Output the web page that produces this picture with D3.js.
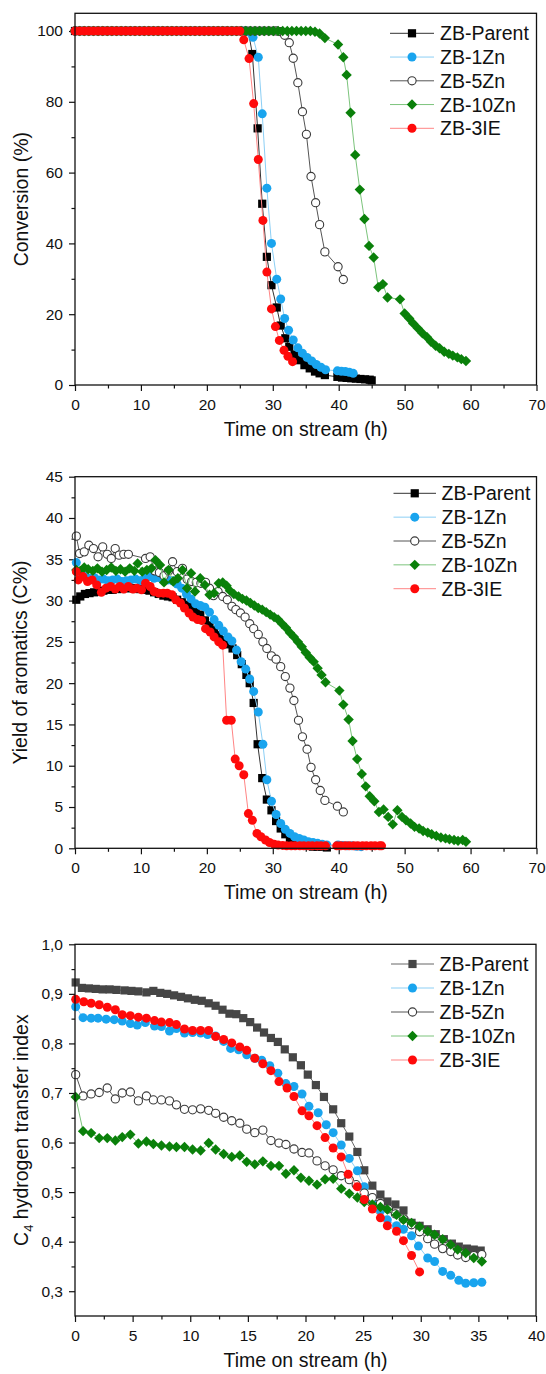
<!DOCTYPE html>
<html><head><meta charset="utf-8">
<script src="https://cdn.jsdelivr.net/npm/d3@7"></script>
<style>
html,body{margin:0;padding:0;background:#fff;}
svg{display:block;font-family:"Liberation Sans",Arial,sans-serif;}
</style></head><body>
<svg id="chart" width="546" height="1374"></svg>
<script>
// ---------------- DATA ----------------
const seriesNames = ["ZB-Parent", "ZB-1Zn", "ZB-5Zn", "ZB-10Zn", "ZB-3IE"];
const xTitle = "Time on stream (h)";

// Panel 1: Conversion (%)
const convParent = [[0,100],[0.7,100],[1.4,100],[2.1,100],[2.8,100],[3.5,100],[4.2,100],[4.9,100],[5.6,100],[6.3,100],[7,100],[7.7,100],[8.4,100],[9.1,100],[9.8,100],[10.5,100],[11.2,100],[11.9,100],[12.6,100],[13.3,100],[14,100],[14.7,100],[15.4,100],[16.1,100],[16.8,100],[17.5,100],[18.2,100],[18.9,100],[19.6,100],[20.3,100],[21,100],[21.7,100],[22.4,100],[23.1,100],[23.8,100],[24.5,100],[25.2,100],[25.9,100],[26.3,99.8],[26.9,93.5],[27.7,72.5],[28.4,51.2],[29.1,36.2],[29.8,28.2],[30.6,21.9],[31.2,16.8],[31.9,13.2],[32.5,10.8],[33.3,8.6],[34.1,7.0],[34.8,5.6],[35.6,4.7],[36.4,3.8],[37.1,3.3],[37.9,2.8],[39.8,2.3],[40.5,2.1],[41.2,2.0],[41.9,1.9],[42.6,1.8],[43.3,1.7],[44,1.6],[44.7,1.5],[45,1.3]];
const conv1Zn = [[0,100],[0.7,100],[1.4,100],[2.1,100],[2.8,100],[3.5,100],[4.2,100],[4.9,100],[5.6,100],[6.3,100],[7,100],[7.7,100],[8.4,100],[9.1,100],[9.8,100],[10.5,100],[11.2,100],[11.9,100],[12.6,100],[13.3,100],[14,100],[14.7,100],[15.4,100],[16.1,100],[16.8,100],[17.5,100],[18.2,100],[18.9,100],[19.6,100],[20.3,100],[21,100],[21.7,100],[22.4,100],[23.1,100],[23.8,100],[24.5,100],[25.2,100],[25.9,100],[26.5,99.6],[27.0,98.2],[27.8,92.6],[28.4,76.6],[29.1,55.6],[29.8,40.0],[30.6,29.9],[31.2,24.3],[31.8,18.8],[32.4,15.5],[33.1,12.7],[33.8,10.5],[34.5,9.0],[35.2,7.8],[35.9,6.8],[36.6,5.8],[37.3,5.0],[38.0,4.3],[39.8,4.0],[40.4,3.9],[41.0,3.8],[41.6,3.6],[42.2,3.3]];
const conv5Zn = [[0,100],[0.7,100],[1.4,100],[2.1,100],[2.8,100],[3.5,100],[4.2,100],[4.9,100],[5.6,100],[6.3,100],[7,100],[7.7,100],[8.4,100],[9.1,100],[9.8,100],[10.5,100],[11.2,100],[11.9,100],[12.6,100],[13.3,100],[14,100],[14.7,100],[15.4,100],[16.1,100],[16.8,100],[17.5,100],[18.2,100],[18.9,100],[19.6,100],[20.3,100],[21,100],[21.7,100],[22.4,100],[23.1,100],[23.8,100],[24.5,100],[25.2,100],[25.9,100],[26.6,100],[27.3,100],[28,100],[28.7,100],[29.4,100],[30.1,100],[30.6,100],[31.2,99.8],[31.8,98.8],[32.5,96.7],[33.1,92.3],[33.8,85.4],[34.5,77.2],[35.1,70.8],[35.8,58.9],[36.5,51.5],[37.1,45.3],[37.9,37.6],[39.9,33.4],[40.7,29.8]];
const conv10Zn = [[0,100],[0.7,100],[1.4,100],[2.1,100],[2.8,100],[3.5,100],[4.2,100],[4.9,100],[5.6,100],[6.3,100],[7,100],[7.7,100],[8.4,100],[9.1,100],[9.8,100],[10.5,100],[11.2,100],[11.9,100],[12.6,100],[13.3,100],[14,100],[14.7,100],[15.4,100],[16.1,100],[16.8,100],[17.5,100],[18.2,100],[18.9,100],[19.6,100],[20.3,100],[21,100],[21.7,100],[22.4,100],[23.1,100],[23.8,100],[24.5,100],[25.2,100],[25.9,100],[26.6,100],[27.3,100],[28,100],[28.7,100],[29.4,100],[30.1,100],[30.8,100],[31.5,100],[32.2,100],[32.9,100],[33.6,100],[34.3,100],[35,100],[35.7,100],[36.4,99.8],[37.1,99.3],[37.9,98.0],[39.9,96.2],[40.7,92.6],[41.2,87.6],[41.8,76.9],[42.5,65.0],[43.2,55.2],[43.9,46.9],[44.6,39.3],[45.3,36.0],[46.0,27.6],[46.7,28.5],[47.4,24.7],[49.3,24.2],[50.0,20.2],[50.7,18.8],[51.3,17.4],[52.0,16.0],[52.7,14.6],[53.4,13.5],[54.0,12.2],[54.7,11.1],[55.3,10.4],[56.0,9.4],[56.7,8.8],[57.3,8.3],[58.0,7.8],[58.6,7.3],[59.3,6.8]];
const conv3IE = [[0,100],[0.7,100],[1.4,100],[2.1,100],[2.8,100],[3.5,100],[4.2,100],[4.9,100],[5.6,100],[6.3,100],[7,100],[7.7,100],[8.4,100],[9.1,100],[9.8,100],[10.5,100],[11.2,100],[11.9,100],[12.6,100],[13.3,100],[14,100],[14.7,100],[15.4,100],[16.1,100],[16.8,100],[17.5,100],[18.2,100],[18.9,100],[19.6,100],[20.3,100],[21,100],[21.7,100],[22.4,100],[23.1,100],[23.8,100],[24.5,100],[25.0,100],[25.6,97.5],[26.4,92.2],[27.1,79.5],[27.8,63.7],[28.5,46.5],[29.1,31.9],[29.8,21.5],[30.4,16.5],[31.0,12.6],[31.7,9.8],[32.3,8.1],[33.0,6.6]];

// Panel 2: Yield of aromatics (C%)
const yieldParent = [[0.2,30.1],[0.8,30.5],[1.5,30.8],[2.2,30.9],[2.9,31.0],[3.6,31.1],[4.3,31.2],[5.0,31.3],[5.7,31.3],[6.4,31.4],[7.1,31.4],[7.8,31.5],[8.5,31.5],[9.2,31.4],[9.9,31.4],[10.6,31.3],[11.3,31.2],[12.0,31.0],[12.7,30.8],[13.4,30.6],[14.1,30.5],[14.8,30.4],[15.5,30.1],[16.2,29.8],[16.9,29.5],[17.6,29.2],[18.3,28.8],[19.0,28.3],[19.7,27.6],[20.4,27.0],[21.1,26.4],[21.8,25.8],[22.5,25.2],[23.2,24.7],[23.9,24.2],[24.6,23.4],[25.3,22.3],[26.0,21.0],[26.5,20.0],[27.1,17.6],[27.7,12.6],[28.4,8.5],[29.1,5.9],[29.8,4.6],[30.5,3.3],[31.2,2.4],[31.9,1.7],[32.6,1.2],[33.3,0.8],[34.0,0.5],[34.7,0.4],[35.4,0.3],[36.1,0.2],[36.8,0.2],[37.5,0.2],[38.2,0.1]];
const yield1Zn = [[0.2,34.6],[0.8,33.2],[1.5,32.9],[2.2,32.7],[2.9,32.8],[3.6,32.5],[4.3,32.6],[5.0,32.4],[5.7,32.5],[6.4,32.6],[7.1,32.3],[7.8,32.4],[8.5,32.5],[9.2,32.6],[9.9,32.4],[10.6,32.8],[11.3,32.9],[12.0,32.7],[12.7,32.8],[13.4,32.6],[14.1,32.5],[14.8,32.4],[15.5,32.0],[16.2,31.5],[16.9,30.8],[17.6,30.2],[18.3,29.6],[19.0,29.4],[19.7,29.2],[20.4,28.6],[21.1,27.7],[21.8,27.0],[22.5,26.3],[23.2,25.6],[23.8,25.1],[24.5,24.0],[25.2,22.6],[25.9,21.7],[26.5,20.5],[27.1,19.0],[27.8,16.5],[28.5,12.6],[29.1,8.3],[29.8,5.7],[30.5,4.1],[31.2,3.0],[31.9,2.3],[32.6,1.8],[33.3,1.4],[34.0,1.2],[34.7,1.0],[35.4,0.8],[36.1,0.7],[36.8,0.6],[37.5,0.5],[38.2,0.4],[39.9,0.4],[40.6,0.35],[41.3,0.3],[42.0,0.3],[42.7,0.25],[43.4,0.2]];
const yield5Zn = [[0.2,37.8],[0.7,35.7],[1.4,35.9],[2.1,36.7],[2.8,36.3],[3.5,35.3],[4.2,36.5],[4.9,35.6],[5.5,35.1],[6.1,36.3],[6.7,35.5],[7.4,35.6],[8.1,35.6],[10.7,35.1],[11.4,35.3],[12.1,33.6],[12.8,33.4],[13.5,33.0],[14.2,33.6],[14.8,34.7],[15.5,33.5],[16.3,33.9],[17.0,32.6],[17.7,32.3],[18.4,32.2],[19.1,32.1],[19.8,32.2],[20.4,31.5],[21.0,30.6],[21.7,31.1],[22.4,30.5],[23.1,30.1],[23.8,29.3],[24.4,28.9],[25.1,28.5],[25.8,28.0],[26.5,27.2],[27.1,26.6],[27.8,25.9],[28.5,25.0],[29.1,24.2],[29.8,23.3],[30.5,22.9],[31.2,22.0],[31.9,20.8],[32.6,19.4],[33.2,17.9],[33.9,15.5],[34.5,13.5],[35.2,12.0],[35.8,9.8],[36.5,8.3],[37.2,7.0],[37.9,5.8],[39.8,5.1],[40.7,4.4]];
const yield10Zn = [[0.2,33.7],[0.8,33.6],[1.4,34.0],[2.0,33.8],[2.7,33.6],[3.4,33.9],[4.1,33.5],[4.8,33.7],[5.5,34.0],[6.2,33.6],[6.9,33.8],[7.6,33.5],[8.3,33.9],[9.0,33.6],[9.5,34.5],[10.2,33.5],[10.9,33.7],[11.6,33.9],[12.2,34.9],[12.9,34.3],[13.5,32.2],[14.2,33.7],[14.9,32.3],[15.6,32.7],[16.3,33.7],[17.0,31.5],[17.6,33.3],[18.2,31.1],[19.0,32.7],[19.7,31.9],[20.4,30.7],[21.1,30.9],[21.8,32.1],[22.4,32.2],[23.0,31.8],[23.5,31.2],[24.1,30.8],[24.8,30.5],[25.4,30.2],[26.0,30.0],[26.6,29.7],[27.2,29.4],[27.8,29.1],[28.4,28.9],[29.0,28.6],[29.6,28.3],[30.2,28.0],[30.8,27.7],[31.4,27.2],[32.0,26.7],[32.6,26.1],[33.2,25.6],[33.8,25.0],[34.4,24.4],[35.0,23.7],[35.6,23.1],[36.2,22.6],[36.8,21.8],[37.4,21.0],[38.0,20.1],[40.1,19.1],[40.7,17.4],[41.5,15.6],[42.1,13.0],[42.8,10.8],[43.5,9.0],[44.1,7.5],[44.7,6.3],[45.4,5.7],[46.1,4.4],[46.8,4.7],[47.5,3.8],[48.2,2.9],[48.9,4.6],[49.6,3.8],[50.2,3.4],[50.9,3.0],[51.5,2.6],[52.2,2.4],[52.8,2.1],[53.5,1.9],[54.1,1.7],[54.8,1.5],[55.5,1.3],[56.2,1.2],[56.8,1.1],[57.5,1.0],[58.1,0.9],[58.8,1.0],[59.3,0.8]];
const yield3IE = [[0.2,33.5],[0.5,32.5],[1.2,32.9],[1.9,32.3],[2.6,32.5],[3.3,31.9],[4.0,31.0],[4.7,31.5],[5.4,31.7],[6.1,31.4],[6.8,31.7],[7.4,31.4],[8.1,31.7],[8.8,31.4],[9.4,31.5],[10.1,31.3],[10.7,32.1],[11.4,31.7],[12.0,31.1],[12.7,30.9],[13.4,30.9],[14.0,30.9],[14.7,30.7],[15.3,30.1],[16.0,29.7],[16.6,29.1],[17.3,28.5],[17.9,28.0],[18.6,27.7],[19.2,27.6],[19.8,26.6],[20.5,26.2],[21.1,25.6],[21.8,25.0],[22.4,24.6],[23.0,15.5],[23.7,15.5],[24.3,10.8],[24.9,10.0],[25.6,8.9],[26.3,4.2],[26.9,3.4],[27.6,1.8],[28.2,1.4],[28.9,1.0],[29.5,0.7],[30.2,0.5],[30.8,0.4],[31.5,0.35],[32.1,0.3],[32.8,0.3],[33.4,0.3],[34.1,0.3],[34.7,0.3],[35.4,0.3],[36.0,0.3],[36.7,0.3],[37.3,0.3],[38.0,0.3],[39.7,0.3],[40.3,0.3],[41.0,0.3],[41.6,0.3],[42.3,0.3],[42.9,0.3],[43.6,0.3],[44.2,0.3],[44.9,0.3],[45.5,0.3],[46.2,0.3],[46.5,0.3]];

// Panel 3: C4 hydrogen transfer index
const htiParent = [[0.06,0.923],[0.6,0.912],[1.2,0.911],[1.8,0.910],[2.4,0.909],[3.0,0.909],[3.6,0.908],[4.3,0.907],[4.9,0.906],[5.5,0.905],[6.2,0.903],[6.8,0.906],[7.4,0.902],[8.0,0.900],[8.6,0.897],[9.2,0.894],[9.8,0.891],[10.4,0.888],[11.0,0.886],[11.6,0.881],[12.2,0.876],[12.8,0.868],[13.4,0.860],[14.0,0.859],[14.6,0.851],[15.2,0.843],[15.8,0.832],[16.4,0.822],[17.0,0.811],[17.6,0.803],[18.2,0.788],[18.9,0.772],[19.6,0.756],[20.2,0.737],[20.9,0.716],[21.6,0.692],[22.4,0.667],[23.1,0.639],[23.8,0.612],[24.5,0.581],[25.1,0.544],[25.8,0.513],[26.5,0.495],[27.1,0.481],[27.8,0.475],[28.5,0.463],[29.2,0.438],[29.9,0.432],[30.6,0.425],[31.3,0.415],[32.0,0.405],[32.7,0.396],[33.3,0.390],[34.0,0.386],[34.6,0.384],[35.2,0.382]];
const hti1Zn = [[0.06,0.874],[0.7,0.852],[1.4,0.851],[2.0,0.851],[2.7,0.849],[3.4,0.848],[4.1,0.845],[4.8,0.840],[5.4,0.837],[6.1,0.842],[6.9,0.835],[7.5,0.834],[8.2,0.825],[8.8,0.830],[9.5,0.821],[10.2,0.822],[10.9,0.821],[11.5,0.818],[12.2,0.815],[12.9,0.804],[13.5,0.790],[14.2,0.787],[14.9,0.777],[15.6,0.770],[16.2,0.766],[16.9,0.755],[17.6,0.740],[18.3,0.719],[19.0,0.713],[19.7,0.698],[20.3,0.673],[21.1,0.660],[21.8,0.636],[22.4,0.620],[23.1,0.595],[23.8,0.568],[24.5,0.543],[25.1,0.511],[25.8,0.480],[26.5,0.462],[27.1,0.444],[27.9,0.432],[28.5,0.425],[29.2,0.412],[29.8,0.391],[30.6,0.367],[31.2,0.360],[31.9,0.340],[32.6,0.332],[33.3,0.322],[33.9,0.316],[34.6,0.317],[35.3,0.318]];
const hti5Zn = [[0.06,0.737],[0.7,0.694],[1.4,0.698],[2.1,0.701],[2.8,0.710],[3.5,0.688],[4.1,0.700],[4.8,0.702],[5.5,0.684],[6.2,0.694],[6.8,0.686],[7.5,0.686],[8.2,0.684],[8.8,0.676],[9.5,0.667],[10.2,0.666],[10.9,0.668],[11.6,0.665],[12.2,0.659],[12.9,0.651],[13.6,0.644],[14.3,0.639],[14.9,0.627],[15.6,0.620],[16.3,0.625],[17.0,0.604],[17.7,0.599],[18.3,0.596],[19.0,0.587],[19.7,0.580],[20.3,0.579],[21.0,0.563],[21.7,0.553],[22.4,0.545],[23.1,0.533],[23.8,0.525],[24.4,0.515],[25.1,0.498],[25.8,0.489],[26.5,0.477],[27.2,0.466],[27.8,0.456],[28.5,0.446],[29.2,0.434],[29.9,0.420],[30.6,0.406],[31.2,0.395],[31.9,0.386],[32.6,0.380],[33.2,0.373],[33.9,0.368],[34.6,0.372],[35.3,0.374]];
const hti10Zn = [[0.06,0.692],[0.7,0.623],[1.4,0.619],[2.1,0.609],[2.8,0.609],[3.5,0.604],[4.1,0.611],[4.8,0.616],[5.5,0.598],[6.2,0.602],[6.8,0.597],[7.5,0.594],[8.2,0.592],[8.8,0.591],[9.5,0.591],[10.2,0.586],[10.9,0.584],[11.6,0.599],[12.2,0.586],[12.9,0.577],[13.6,0.571],[14.3,0.574],[14.9,0.561],[15.6,0.556],[16.3,0.562],[17.0,0.553],[17.7,0.553],[18.3,0.537],[19.0,0.544],[19.6,0.529],[20.3,0.523],[21.0,0.515],[21.7,0.526],[22.4,0.527],[23.1,0.507],[23.8,0.497],[24.5,0.489],[25.1,0.480],[25.8,0.475],[26.5,0.470],[27.1,0.465],[27.9,0.454],[28.5,0.444],[29.2,0.438],[29.9,0.430],[30.6,0.421],[31.2,0.414],[31.9,0.405],[32.6,0.394],[33.2,0.384],[33.9,0.377],[34.6,0.367],[35.3,0.360]];
const hti3IE = [[0.06,0.889],[0.76,0.884],[1.4,0.881],[2.1,0.878],[2.8,0.873],[3.5,0.868],[4.1,0.858],[4.8,0.856],[5.5,0.853],[6.2,0.851],[6.9,0.846],[7.5,0.843],[8.2,0.842],[8.8,0.838],[9.5,0.829],[10.2,0.826],[10.9,0.826],[11.6,0.826],[12.2,0.814],[12.9,0.808],[13.6,0.801],[14.3,0.793],[14.9,0.786],[15.6,0.770],[16.3,0.759],[17.0,0.745],[17.7,0.723],[18.4,0.710],[19.0,0.693],[19.7,0.664],[20.3,0.654],[21.0,0.634],[21.7,0.610],[22.4,0.589],[23.1,0.571],[23.7,0.536],[24.5,0.511],[25.1,0.485],[25.8,0.466],[26.5,0.448],[27.1,0.432],[27.9,0.421],[28.5,0.402],[29.2,0.372],[29.9,0.339]];

// Tick values / labels
const xTicks70 = [0,10,20,30,40,50,60,70];
const xMinor70 = [5,15,25,35,45,55,65];
const xTicks40 = [0,5,10,15,20,25,30,35,40];
const xMinor40 = [2.5,7.5,12.5,17.5,22.5,27.5,32.5,37.5];
const convYTicks = [0,20,40,60,80,100];
const convYMinor = [10,30,50,70,90];
const yieldYTicks = [0,5,10,15,20,25,30,35,40,45];
const yieldYMinor = [2.5,7.5,12.5,17.5,22.5,27.5,32.5,37.5,42.5];
const htiYTicks = [0.3,0.4,0.5,0.6,0.7,0.8,0.9,1.0];
const htiYTickLabels = ["0,3","0,4","0,5","0,6","0,7","0,8","0,9","1,0"];
const htiYMinor = [0.35,0.45,0.55,0.65,0.75,0.85,0.95];

// ---------------- STYLE / LAYOUT ----------------
const FONT = '"Liberation Sans", Arial, sans-serif';
const BLUE = "#19a4ee", GREEN = "#0a800a", RED = "#ff0a0a";
function styles(parentFill, parentLine) {
  return [
    {shape: "square", fill: parentFill, stroke: "none", line: parentLine},
    {shape: "circle", fill: BLUE, stroke: "none", line: "#8ccff5"},
    {shape: "circle", fill: "#fff", stroke: "#3a3a3a", line: "#555"},
    {shape: "diamond", fill: GREEN, stroke: "none", line: "#7cc47c"},
    {shape: "circle", fill: RED, stroke: "none", line: "#ff8585"}
  ];
}

const svg = d3.select("#chart");
svg.append("rect").attr("width", 546).attr("height", 1374).attr("fill", "#fff");

function markerPath(shape) {
  if (shape === "square") return "M-4.1,-4.1h8.2v8.2h-8.2z";
  if (shape === "diamond") return "M0,-5.2L5.2,0L0,5.2L-5.2,0Z";
  return d3.symbol(d3.symbolCircle, Math.PI * 4.5 * 4.5)();
}
function openCirclePath() { return d3.symbol(d3.symbolCircle, Math.PI * 4.1 * 4.1)(); }

function drawMarkers(g, data, st, xf, yf) {
  g.selectAll(null).data(data).join("path")
    .attr("transform", d => `translate(${xf(d)},${yf(d)})`)
    .attr("d", st.stroke !== "none" ? openCirclePath() : markerPath(st.shape))
    .attr("fill", st.fill)
    .attr("stroke", st.stroke)
    .attr("stroke-width", st.stroke !== "none" ? 1.1 : 0);
}

function drawPanel(p) {
  const g = svg.append("g");
  const x = d3.scaleLinear().domain(p.xDomain).range([p.left, p.right]);
  const y = d3.scaleLinear().domain(p.yDomain).range([p.bottom, p.top]);

  const styleAxis = s => {
    s.select(".domain").remove();
    s.selectAll("line").attr("stroke", "#111").attr("stroke-width", 1.2);
    s.selectAll("text").attr("font-family", FONT).attr("font-size", 15.5).attr("fill", "#111");
  };
  g.append("g").attr("transform", `translate(0,${p.bottom})`)
    .call(d3.axisBottom(x).tickValues(p.xMinor).tickSize(3.5).tickFormat("")).call(styleAxis);
  g.append("g").attr("transform", `translate(0,${p.bottom})`)
    .call(d3.axisBottom(x).tickValues(p.xTicks).tickSize(6).tickPadding(8).tickFormat(d3.format("d"))).call(styleAxis);
  g.append("g").attr("transform", `translate(${p.left},0)`)
    .call(d3.axisLeft(y).tickValues(p.yMinor).tickSize(3.5).tickFormat("")).call(styleAxis);
  g.append("g").attr("transform", `translate(${p.left},0)`)
    .call(d3.axisLeft(y).tickValues(p.yTicks).tickSize(6).tickPadding(6).tickFormat(p.yFormat)).call(styleAxis);

  // series
  p.series.forEach((data, i) => {
    const st = p.styles[i];
    const line = d3.line().x(d => x(d[0])).y(d => y(d[1]));
    g.append("path").datum(data).attr("d", line).attr("fill", "none")
      .attr("stroke", st.line).attr("stroke-width", 1);
    drawMarkers(g.append("g"), data, st, d => x(d[0]), d => y(d[1]));
  });

  // frame
  g.append("rect").attr("x", p.left).attr("y", p.top)
    .attr("width", p.right - p.left).attr("height", p.bottom - p.top)
    .attr("fill", "none").attr("stroke", "#111").attr("stroke-width", 1.3);

  // legend
  const L = p.legend;
  seriesNames.forEach((name, i) => {
    const st = p.styles[i];
    const ly = L.y0 + i * L.dy;
    const lg = g.append("g");
    lg.append("line").attr("x1", L.x1).attr("x2", L.x2).attr("y1", ly).attr("y2", ly)
      .attr("stroke", st.line).attr("stroke-width", 1);
    drawMarkers(lg, [0], st, () => (L.x1 + L.x2) / 2, () => ly);
    lg.append("text").attr("x", L.xt).attr("y", ly + 7).text(name)
      .attr("font-family", FONT).attr("font-size", 19.5).attr("fill", "#111");
  });

  // axis titles
  g.append("text").attr("x", (p.left + p.right) / 2).attr("y", p.bottom + 51)
    .attr("text-anchor", "middle").attr("font-family", FONT).attr("font-size", 19.5)
    .attr("fill", "#111").text(xTitle);
  const yt = g.append("text")
    .attr("transform", `translate(${p.yTitleX},${(p.top + p.bottom) / 2}) rotate(-90)`)
    .attr("text-anchor", "middle").attr("font-family", FONT).attr("font-size", 19.5).attr("fill", "#111");
  if (p.yTitleSub) {
    yt.append("tspan").text(p.yTitle[0]);
    yt.append("tspan").text(p.yTitleSub).attr("font-size", 13).attr("dy", 5);
    yt.append("tspan").text(p.yTitle[1]).attr("dy", -5);
  } else {
    yt.text(p.yTitle);
  }
}

drawPanel({
  left: 75, right: 536.5, top: 13.3, bottom: 385,
  xDomain: [0, 70], yDomain: [0, 105],
  xTicks: xTicks70, xMinor: xMinor70, yTicks: convYTicks, yMinor: convYMinor,
  yFormat: d3.format("d"),
  series: [convParent, conv1Zn, conv5Zn, conv10Zn, conv3IE],
  styles: styles("#000", "#333"),
  legend: {x1: 390, x2: 434, xt: 440, y0: 33.3, dy: 23.75},
  yTitle: "Conversion (%)", yTitleX: 28
});
drawPanel({
  left: 75, right: 536.5, top: 476.7, bottom: 848.3,
  xDomain: [0, 70], yDomain: [0, 45],
  xTicks: xTicks70, xMinor: xMinor70, yTicks: yieldYTicks, yMinor: yieldYMinor,
  yFormat: d3.format("d"),
  series: [yieldParent, yield1Zn, yield5Zn, yield10Zn, yield3IE],
  styles: styles("#000", "#333"),
  legend: {x1: 393.5, x2: 436, xt: 441.5, y0: 493.3, dy: 23.85},
  yTitle: "Yield of aromatics (C%)", yTitleX: 27
});
drawPanel({
  left: 75, right: 536, top: 944.3, bottom: 1316,
  xDomain: [0, 40], yDomain: [0.25, 1.0],
  xTicks: xTicks40, xMinor: xMinor40, yTicks: htiYTicks, yMinor: htiYMinor,
  yFormat: d => htiYTickLabels[htiYTicks.indexOf(d)],
  series: [htiParent, hti1Zn, hti5Zn, hti10Zn, hti3IE],
  styles: styles("#464646", "#666"),
  legend: {x1: 391, x2: 434, xt: 439.5, y0: 964, dy: 24},
  yTitle: ["C", " hydrogen transfer index"], yTitleSub: "4", yTitleX: 28
});
</script></body></html>
